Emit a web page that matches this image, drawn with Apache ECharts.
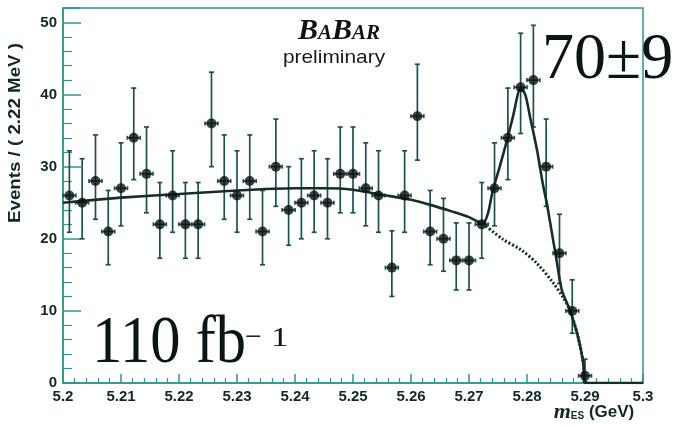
<!DOCTYPE html>
<html>
<head>
<meta charset="utf-8">
<script src="https://cdn.jsdelivr.net/npm/echarts@6/dist/echarts.min.js"></script>
<style>html,body{margin:0;padding:0;background:#fff;}#c{width:675px;height:425px;}</style>
</head>
<body>
<div id="c"></div>
<script>
// bin centres (GeV), 2.22 MeV bins
const mES = [5.2011,5.2033,5.2056,5.2078,5.2100,5.2122,5.2144,5.2167,5.2189,5.2211,
  5.2233,5.2256,5.2278,5.2300,5.2322,5.2344,5.2367,5.2389,5.2411,5.2433,
  5.2456,5.2478,5.2500,5.2522,5.2544,5.2567,5.2589,5.2611,5.2633,5.2656,
  5.2678,5.2700,5.2722,5.2744,5.2767,5.2789,5.2811,5.2833,5.2856,5.2878,5.2900];
const events = [26,25,28,21,27,34,29,22,26,22,22,36,28,26,28,21,30,24,25,26,
  25,29,29,27,26,16,26,37,21,20,17,17,22,27,34,41,42,30,18,10,1];
const errHi = [6.2,6.1,6.4,5.7,6.3,6.9,6.5,5.8,6.2,5.8,5.8,7.1,6.4,6.2,6.4,5.7,6.6,6.0,6.1,6.2,
  6.1,6.5,6.5,6.3,6.2,5.1,6.2,7.2,5.7,5.6,5.2,5.2,5.8,6.3,6.9,7.5,7.6,6.6,5.4,4.3,2.3];
const errLo = [5.1,5.0,5.3,4.6,5.2,5.8,5.4,4.7,5.1,4.7,4.7,6.0,5.3,5.1,5.3,4.6,5.5,4.9,5.0,5.1,
  5.0,5.4,5.4,5.2,5.1,4.0,5.1,6.1,4.6,4.5,4.1,4.1,4.7,5.2,5.8,6.4,6.5,5.5,4.2,3.1,0.8];
const halfBin = 0.00111;
// total fit curve
const fitX = [5.200,5.210,5.220,5.230,5.240,5.245,5.250,5.255,5.260,5.2633,5.267,5.270,5.2724,
  5.2733,5.2741,5.2753,5.2766,5.2776,5.2789,5.2797,5.2805,5.2817,5.2828,5.2834,5.2840,5.2850,
  5.2860,5.2874,5.2888,5.2897,5.2900,5.3000];
const fitY = [25.0,25.7,26.2,26.7,27.0,27.0,26.8,26.1,25.4,24.7,23.8,23.0,22.1,
  23.6,26.7,30.0,33.8,37.0,40.9,40.0,37.0,32.4,27.3,25.0,22.2,17.5,
  12.9,10.1,6.4,2.8,0.0,0.0];
// background component (dashed)
const bgX = [5.2724,5.2759,5.2789,5.2817,5.2845,5.2862,5.2874,5.2888,5.2897,5.2900];
const bgY = [22.1,19.9,18.5,16.6,13.9,11.9,10.1,6.4,2.8,0.0];
const xTicks = ['5.2','5.21','5.22','5.23','5.24','5.25','5.26','5.27','5.28','5.29','5.3'];

const teal = '#2f948c';
const barCol = '#1b524f';
const curveCol = '#152e2c';
const txt = '#0a1616';
const lab = '#122828';

const pts = mES.map((x,i)=>[x, events[i], errLo[i], errHi[i]]);
const chart = echarts.init(document.getElementById('c'), null, {renderer:'canvas'});
chart.setOption({
  animation:false,
  backgroundColor:'#fff',
  grid:{left:63, right:32, top:8, bottom:42, show:true, borderColor:teal, borderWidth:1.5},
  xAxis:{type:'value', min:5.2, max:5.3, interval:0.01,
    axisLine:{show:true, lineStyle:{color:teal, width:1.5}},
    axisTick:{inside:true, length:9, lineStyle:{color:teal, width:1.5}},
    minorTick:{show:true, splitNumber:5, length:5, lineStyle:{color:teal, width:1.2}},
    splitLine:{show:false},
    axisLabel:{margin:6, color:lab, fontFamily:'Liberation Sans', fontWeight:'bold', fontSize:15,
      formatter:(v)=>{const k=Math.round((v-5.2)/0.01); return xTicks[k]!==undefined?xTicks[k]:'';}}
  },
  yAxis:{type:'value', min:0, max:52, interval:10,
    axisLine:{show:true, lineStyle:{color:teal, width:1.5}},
    axisTick:{inside:true, length:18, lineStyle:{color:teal, width:1.5}},
    minorTick:{show:true, splitNumber:5, length:9, lineStyle:{color:teal, width:1.2}},
    splitLine:{show:false},
    axisLabel:{margin:6, showMaxLabel:false, color:lab, fontFamily:'Liberation Sans', fontWeight:'bold', fontSize:15}
  },
  series:[
    {type:'custom', z:2, data:pts,
      renderItem:(params, api)=>{
        const x=api.value(0), y=api.value(1), lo=api.value(2), hi=api.value(3);
        const pT=api.coord([x,y+hi]), pB=api.coord([x,y-lo]);
        const pL=api.coord([x-halfBin,y]), pR=api.coord([x+halfBin,y]);
        const st={stroke:barCol, lineWidth:1.7};
        const cap=2.5;
        return {type:'group', children:[
          {type:'line', shape:{x1:pT[0],y1:pT[1],x2:pB[0],y2:pB[1]}, style:st},
          {type:'line', shape:{x1:pT[0]-cap,y1:pT[1],x2:pT[0]+cap,y2:pT[1]}, style:st},
          {type:'line', shape:{x1:pB[0]-cap,y1:pB[1],x2:pB[0]+cap,y2:pB[1]}, style:st},
          {type:'line', shape:{x1:pL[0],y1:pL[1],x2:pR[0],y2:pR[1]}, style:st},
          {type:'line', shape:{x1:pL[0],y1:pL[1]-2,x2:pL[0],y2:pL[1]+2}, style:st},
          {type:'line', shape:{x1:pR[0],y1:pR[1]-2,x2:pR[0],y2:pR[1]+2}, style:st}
        ]};
      }
    },
    {type:'line', z:3, data:bgX.map((x,i)=>[x,bgY[i]]), showSymbol:false, smooth:0.3,
      lineStyle:{color:curveCol, width:3, type:[2,2]}},
    {type:'line', z:4, data:fitX.map((x,i)=>[x,fitY[i]]), showSymbol:false, smooth:0.25,
      lineStyle:{color:curveCol, width:2.6}},
    {type:'scatter', z:5, data:mES.map((x,i)=>[x,events[i]]), symbol:'circle', symbolSize:10,
      itemStyle:{color:'#0a1010'}}
  ],
  graphic:[
    {type:'text', x:16, y:133, rotation:Math.PI/2, scaleX:1.17, style:{text:'Events / ( 2.22 MeV )', fill:lab,
      font:'bold 16px "Liberation Sans"', textAlign:'center', textVerticalAlign:'middle'}},
    {type:'text', x:594, y:412, style:{text:'{m|m}{s|ES}{t| (GeV)}', textAlign:'center', textVerticalAlign:'middle',
      rich:{m:{fontFamily:'Liberation Serif', fontStyle:'italic', fontSize:22, fill:lab, fontWeight:'bold'},
            s:{fontFamily:'Liberation Sans', fontWeight:'bold', fontSize:10, fill:lab, padding:[9,0,0,0]},
            t:{fontFamily:'Liberation Sans', fontWeight:'bold', fontSize:17, fill:lab}}}},
    {type:'text', x:339, y:31, style:{text:'{b|B}{s|A}{b|B}{s|AR}', textAlign:'center', textVerticalAlign:'middle',
      rich:{b:{fontFamily:'Liberation Serif', fontStyle:'italic', fontWeight:'bold', fontSize:30, fill:'#0e1414'},
            s:{fontFamily:'Liberation Serif', fontStyle:'italic', fontWeight:'bold', fontSize:21, fill:'#0e1414', padding:[5,0,0,0]}}}},
    {type:'text', x:334, y:58, scaleX:1.1, style:{text:'preliminary', fill:'#1a1a1a', font:'19px "Liberation Sans"',
      textAlign:'center', textVerticalAlign:'middle'}},
    {type:'text', x:542, y:61, scaleX:0.97, style:{text:'70±9', fill:txt, font:'66px "Liberation Serif"',
      textAlign:'left', textVerticalAlign:'middle'}},
    {type:'text', x:92, y:344, scaleX:0.89, style:{text:'110 fb', fill:txt, font:'68px "Liberation Serif"',
      textAlign:'left', textVerticalAlign:'middle'}},
    {type:'text', x:245, y:338, style:{text:'−', fill:txt, font:'30px "Liberation Serif"',
      textAlign:'left', textVerticalAlign:'middle'}},
    {type:'text', x:271, y:339, scaleX:1.25, style:{text:'1', fill:txt, font:'28px "Liberation Serif"',
      textAlign:'left', textVerticalAlign:'middle'}}
  ]
});
</script>
</body>
</html>
